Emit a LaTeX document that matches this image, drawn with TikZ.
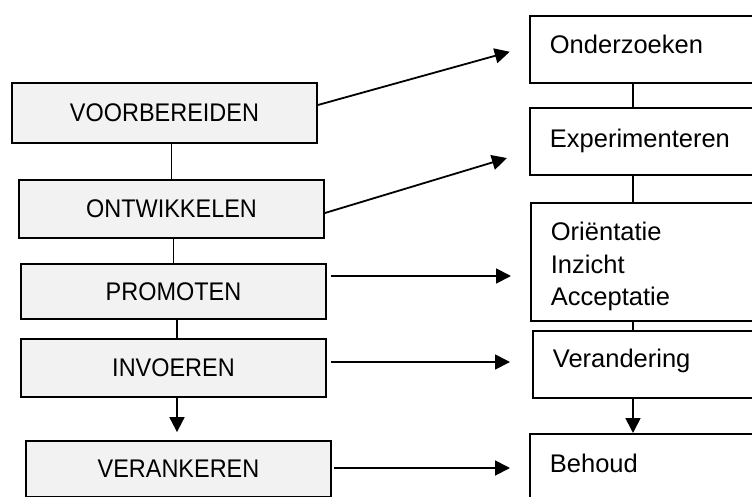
\documentclass[tikz,border=0pt]{standalone}
\usepackage{fontspec}
\setmainfont{Liberation Sans}
\newfontfamily\fasefont[FakeStretch=0.92]{Liberation Sans}
\usetikzlibrary{arrows.meta}
\definecolor{fase}{HTML}{F2F2F2}

\begin{document}
\begin{tikzpicture}[x=1pt, y=-1pt,
        fasebox/.style={draw, line width=1.8pt, fill=fase, minimum width=305pt, inner sep=0pt, font=\fasefont\fontsize{25.5}{30}\selectfont},
        stapbox/.style={draw, line width=1.8pt, anchor=north west, inner xsep=20pt, inner ysep=0pt, text width=200pt, align=left, font=\fontsize{25.5}{32.5}\selectfont},
        lijn/.style={line width=1.8pt},
        pijl/.style={line width=1.8pt, -{Triangle[length=15pt,width=15pt]}}]
        \useasboundingbox (0,0) rectangle (752,496);
        \clip (0,0) rectangle (752,496);
        % FASEN
        \node[fasebox, minimum height=60pt] (voorb) at (164.5,113) {VOORBEREIDEN};
        \node[fasebox, minimum height=58pt] (ontw) at (171.5,209) {ONTWIKKELEN};
        \node[fasebox, minimum height=55pt] (prom) at (173.5,291.5) {PROMOTEN};
        \node[fasebox, minimum height=58pt] (invo) at (173.5,368) {INVOEREN};
        \node[fasebox, minimum height=56pt] (veran) at (178.5,469) {VERANKEREN};

        % STAPPEN
        \node[stapbox, text height=38pt, text depth=29pt] (ond) at (529,15) {Onderzoeken};
        \node[stapbox, text height=40pt, text depth=27pt] (exp) at (529,107) {Experimenteren};
        \node[stapbox, text height=38pt, text depth=80pt] (ori) at (530,202) {Oriëntatie\\Inzicht\\Acceptatie};
        \node[stapbox, text height=37pt, text depth=30pt] (ver) at (532,330) {Verandering};
        \node[stapbox, text height=39pt, text depth=40pt] (beh) at (529,433) {Behoud};

        % VERBINDINGEN
        \draw[lijn] (ontw.north |- voorb.south) -- (ontw.north);
        \draw[lijn] (prom.north |- ontw.south) -- (prom.north);
        \draw[lijn] ([xshift=3.5pt]invo.north |- prom.south) -- ([xshift=3.5pt]invo.north);
        \draw[pijl, shorten >=8pt] ([xshift=3.5pt]invo.south) -- ([xshift=3.5pt]invo.south |- veran.north);

        \draw[lijn] ([xshift=104pt]ond.south west) -- ([xshift=104pt]exp.north west);
        \draw[lijn] ([xshift=104pt]exp.south west) -- ([xshift=103pt]ori.north west);
        \draw[lijn] ([xshift=103pt]ori.south west) -- ([xshift=101pt]ver.north west);
        \draw[pijl] ([xshift=101pt]ver.south west) -- ([xshift=104pt]beh.north west);

        \draw[pijl, shorten >=20pt] ([yshift=8pt]voorb.east) -- ([yshift=3pt]ond.west);
        \draw[pijl, shorten >=23pt] ([yshift=-4pt]ontw.east) -- ([yshift=-10pt]exp.west);
        \draw[pijl, shorten <=4pt, shorten >=19pt] ([yshift=15.5pt]prom.east) -- ([yshift=15.5pt]prom.east -| ori.west);
        \draw[pijl, shorten <=4pt, shorten >=22pt] ([yshift=6pt]invo.east) -- ([yshift=6pt]invo.east -| ver.west);
        \draw[pijl, shorten <=2pt, shorten >=19pt] ([yshift=1pt]veran.east) -- ([yshift=1pt]veran.east -| beh.west);
\end{tikzpicture}
\end{document}
